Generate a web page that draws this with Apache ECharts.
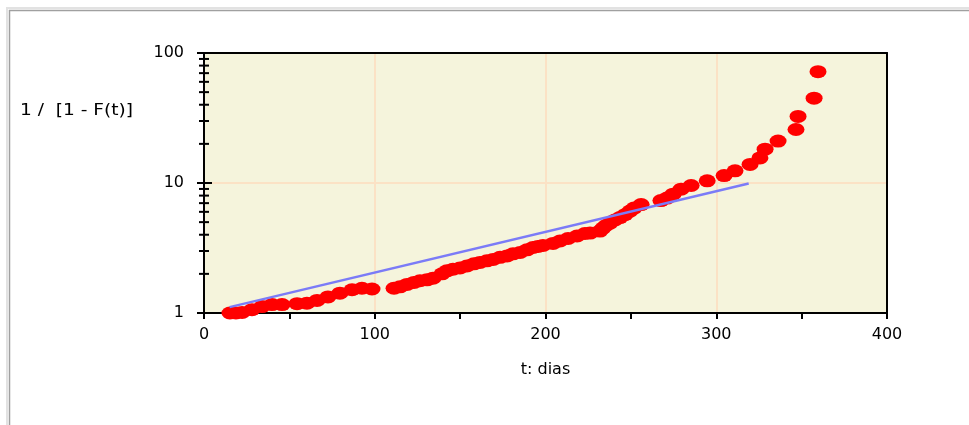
<!DOCTYPE html>
<html>
<head>
<meta charset="utf-8">
<script src="https://cdn.jsdelivr.net/npm/echarts@6/dist/echarts.min.js"></script>
<style>
  html, body { margin: 0; padding: 0; background: #ffffff; }
  #chart { width: 969px; height: 425px; }
</style>
</head>
<body>
<div id="chart"></div>
<script>
// Observed times (days) and 1 / [1 - F(t)] for each failure
const tDays = [
  15.2, 18.7, 22.3, 28.1, 33.9, 39.8, 45.7, 54.5, 60.3, 66.2, 72.6, 79.6, 86.7, 92.5, 98.4,
  111.3, 114.8, 118.9, 123.0, 126.5, 130.6, 134.1, 139.4, 142.3, 145.8, 149.9, 154.0, 158.1,
  161.6, 165.7, 169.3, 173.4, 177.5, 181.0, 185.1, 189.2, 192.7, 195.6, 198.5,
  204.4, 208.5, 213.2, 218.5, 223.1, 226.1, 231.9, 233.7, 235.4, 237.8, 240.7, 243.6, 246.6,
  249.5, 251.9, 256.0,
  267.6, 271.2, 274.7, 279.4, 285.3, 294.7, 304.6, 311.0, 319.8, 325.6, 328.6, 336.2, 346.7,
  347.9, 357.3, 359.6
];
const invSurvival = [
  1.00, 1.00, 1.01, 1.06, 1.12, 1.16, 1.16, 1.18, 1.19, 1.25, 1.33, 1.42, 1.51, 1.55, 1.53,
  1.55, 1.59, 1.66, 1.72, 1.77, 1.80, 1.85, 2.00, 2.11, 2.17, 2.22, 2.30, 2.39,
  2.45, 2.52, 2.58, 2.68, 2.75, 2.85, 2.92, 3.06, 3.19, 3.25, 3.31,
  3.43, 3.58, 3.74, 3.91, 4.09, 4.12, 4.27, 4.50, 4.71, 4.92, 5.19, 5.42, 5.71,
  6.08, 6.41, 6.82,
  7.32, 7.65, 8.21, 8.97, 9.57, 10.4, 11.4, 12.4, 13.9, 15.6, 18.2, 21.0, 25.8,
  32.5, 44.9, 71.9
];

// Exponential fit (straight on the log axis): end points
const fitT = [15, 319];
const fitY = [1.11, 9.9];

// Log-axis tick values
const yMajorTicks = [1, 10, 100];
const yMinorTicks = [2, 3, 4, 5, 6, 7, 8, 9, 20, 30, 40, 50, 60, 70, 80, 90];

const points = tDays.map((t, i) => [t, invSurvival[i]]);
const fitLine = fitT.map((t, i) => [t, fitY[i]]);
const tickData = yMajorTicks.map(v => [0, v, 1]).concat(yMinorTicks.map(v => [0, v, 0]));

const FONT = 'DejaVu Sans';
const BLACK_LINE = { color: '#000', width: 2 };
const chart = echarts.init(document.getElementById('chart'), null, { renderer: 'canvas' });

chart.setOption({
  animation: false,
  backgroundColor: '#ffffff',
  graphic: [
    { type: 'rect', silent: true, z: -10,
      shape: { x: 7, y: 8, width: 1100, height: 600 },
      style: { fill: 'none', stroke: '#e2e2e2', lineWidth: 2 } },
    { type: 'rect', silent: true, z: -10,
      shape: { x: 9.5, y: 10.5, width: 1100, height: 600 },
      style: { fill: 'none', stroke: '#a0a0a0', lineWidth: 1.5 } },
    { type: 'text', left: 20, top: 103, silent: true, scaleX: 1.16,
      style: { text: '1 /  [1 - F(t)]', font: '16px "DejaVu Sans"', fill: '#000' } }
  ],
  grid: {
    left: 204, top: 53, width: 683, height: 260,
    show: true, backgroundColor: '#F5F4DC', borderWidth: 0
  },
  xAxis: [
    {
      type: 'value', min: 0, max: 400, interval: 100,
      name: 't: dias', nameLocation: 'middle', nameGap: 49,
      nameTextStyle: { color: '#000', fontSize: 16, fontFamily: FONT },
      axisLine: { onZero: false, lineStyle: BLACK_LINE },
      axisTick: { length: 6, lineStyle: BLACK_LINE },
      minorTick: { show: true, splitNumber: 2, length: 6, lineStyle: BLACK_LINE },
      splitLine: { show: true, lineStyle: { color: '#FBE2C5', width: 2 } },
      axisLabel: { margin: 14, color: '#000', fontSize: 16, fontFamily: FONT }
    },
    {
      // top frame edge
      type: 'value', position: 'top', min: 0, max: 400,
      axisLine: { show: true, onZero: false, lineStyle: BLACK_LINE },
      axisTick: { show: false }, axisLabel: { show: false }, splitLine: { show: false }
    }
  ],
  yAxis: [
    {
      type: 'log', logBase: 10, min: 1, max: 100,
      axisLine: { onZero: false, lineStyle: BLACK_LINE },
      axisTick: { show: false },
      splitLine: { show: true, lineStyle: { color: '#FBE2C5', width: 2 } },
      axisLabel: { margin: 20, color: '#000', fontSize: 16, fontFamily: FONT }
    },
    {
      // right frame edge
      type: 'log', logBase: 10, min: 1, max: 100, position: 'right',
      axisLine: { show: true, onZero: false, lineStyle: BLACK_LINE },
      axisTick: { show: false }, axisLabel: { show: false }, splitLine: { show: false }
    }
  ],
  series: [
    {
      // y-axis ticks: majors cross the axis, minors at 2..9 of each decade
      type: 'custom', silent: true, clip: false, z: 10,
      data: tickData,
      renderItem: function (params, api) {
        const p = api.coord([api.value(0), api.value(1)]);
        const major = api.value(2) === 1;
        const l = major ? 7 : 5, r = major ? 8 : 5;
        return {
          type: 'line',
          shape: { x1: p[0] - l, y1: p[1], x2: p[0] + r, y2: p[1] },
          style: { stroke: '#000', lineWidth: 2 }
        };
      }
    },
    {
      type: 'scatter', data: points, clip: false, z: 3,
      symbol: 'circle', symbolSize: [17, 13],
      itemStyle: { color: '#FF0000', opacity: 1 }
    },
    {
      type: 'line', data: fitLine, z: 5,
      showSymbol: false, symbol: 'none',
      lineStyle: { color: '#7B7BF7', width: 2.5 }
    }
  ]
});
</script>
</body>
</html>
